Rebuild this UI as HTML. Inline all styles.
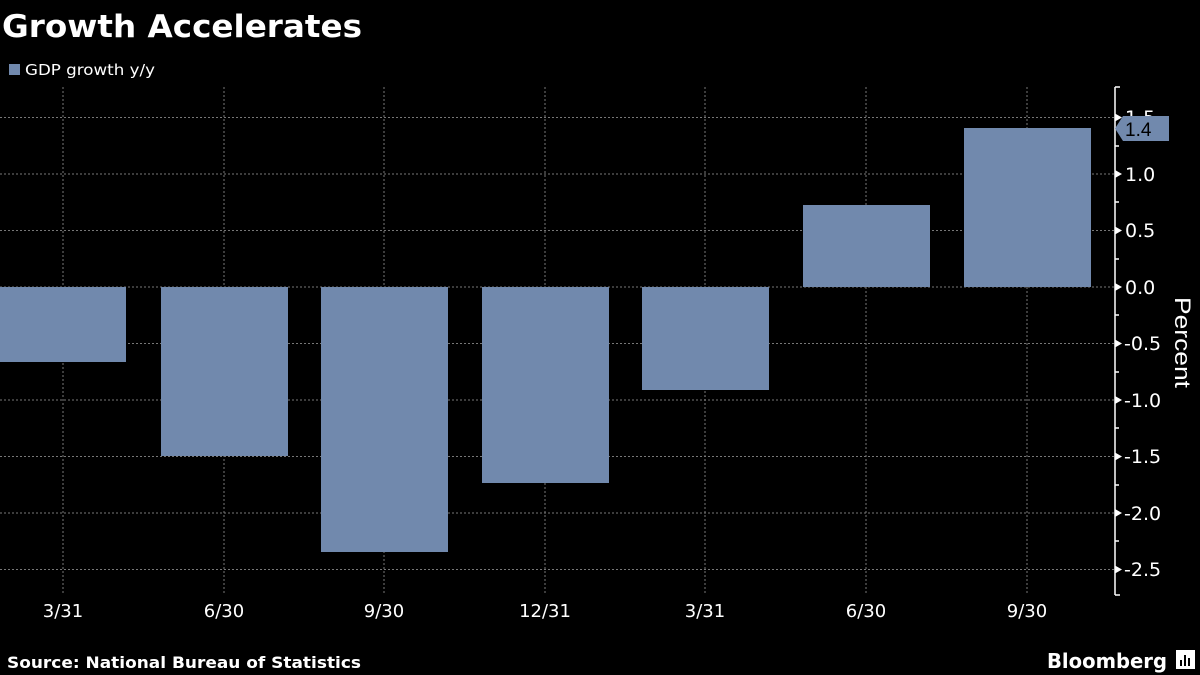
<!DOCTYPE html>
<html><head><style>
body{margin:0;background:#000;width:1200px;height:675px;overflow:hidden}
svg{display:block}
text{font-family:"DejaVu Sans","Liberation Sans",sans-serif;fill:#fff}
.l{font-family:"Liberation Sans",sans-serif}
</style></head><body>
<svg width="1200" height="675" viewBox="0 0 1200 675">
<rect width="1200" height="675" fill="#000"/>
<text x="2" y="37" font-size="31" font-weight="bold" textLength="360" lengthAdjust="spacingAndGlyphs">Growth Accelerates</text>
<rect x="9" y="64" width="11" height="11" fill="#7189ad"/>
<text x="25" y="75" font-size="15" textLength="130" lengthAdjust="spacingAndGlyphs">GDP growth y/y</text>
<g stroke="#777" stroke-width="1" stroke-dasharray="2,2">
<line x1="63" y1="87" x2="63" y2="595"/><line x1="224" y1="87" x2="224" y2="595"/>
<line x1="384" y1="87" x2="384" y2="595"/><line x1="545" y1="87" x2="545" y2="595"/>
<line x1="705" y1="87" x2="705" y2="595"/><line x1="866" y1="87" x2="866" y2="595"/>
<line x1="1027" y1="87" x2="1027" y2="595"/>
<line x1="0" y1="117.5" x2="1115" y2="117.5"/><line x1="0" y1="174" x2="1115" y2="174"/>
<line x1="0" y1="230.5" x2="1115" y2="230.5"/><line x1="0" y1="287" x2="1115" y2="287"/>
<line x1="0" y1="343.5" x2="1115" y2="343.5"/><line x1="0" y1="400" x2="1115" y2="400"/>
<line x1="0" y1="456.5" x2="1115" y2="456.5"/><line x1="0" y1="513" x2="1115" y2="513"/>
<line x1="0" y1="569.5" x2="1115" y2="569.5"/>
</g>
<g fill="#7189ad">
<rect x="0" y="287" width="126" height="75"/>
<rect x="161" y="287" width="127" height="169"/>
<rect x="321" y="287" width="127" height="265"/>
<rect x="482" y="287" width="127" height="196"/>
<rect x="642" y="287" width="127" height="103"/>
<rect x="803" y="205" width="127" height="82"/>
<rect x="964" y="128" width="127" height="159"/>
</g>
<line x1="1115" y1="87" x2="1115" y2="595" stroke="#fff" stroke-width="1.5"/>
<g stroke="#fff" stroke-width="1.5">
<line x1="1115" y1="87" x2="1120" y2="87"/><line x1="1115" y1="595" x2="1120" y2="595"/>
<line x1="1115" y1="146" x2="1119" y2="146"/><line x1="1115" y1="202" x2="1119" y2="202"/>
<line x1="1115" y1="259" x2="1119" y2="259"/><line x1="1115" y1="315" x2="1119" y2="315"/>
<line x1="1115" y1="372" x2="1119" y2="372"/><line x1="1115" y1="428" x2="1119" y2="428"/>
<line x1="1115" y1="485" x2="1119" y2="485"/><line x1="1115" y1="541" x2="1119" y2="541"/>
</g>
<g fill="#fff">
<path d="M1115 113.5l7 4-7 4z"/><path d="M1115 170l7 4-7 4z"/><path d="M1115 226.5l7 4-7 4z"/>
<path d="M1115 283l7 4-7 4z"/><path d="M1115 339.5l7 4-7 4z"/><path d="M1115 396l7 4-7 4z"/>
<path d="M1115 452.5l7 4-7 4z"/><path d="M1115 509l7 4-7 4z"/><path d="M1115 565.5l7 4-7 4z"/>
</g>
<g font-size="19" class="l">
<text x="1125" y="124">1.5</text><text x="1125" y="181">1.0</text><text x="1125" y="237">0.5</text>
<text x="1125" y="294">0.0</text><text x="1124" y="350">-0.5</text><text x="1124" y="407">-1.0</text>
<text x="1124" y="463">-1.5</text><text x="1124" y="520">-2.0</text><text x="1124" y="576">-2.5</text>
</g>
<path d="M1123 116H1169V141H1123L1115 128.5Z" fill="#7189ad"/>
<text x="1125" y="136" font-size="19" class="l" style="fill:#000">1.4</text>
<text x="0" y="0" font-size="22" class="l" transform="translate(1175,297) rotate(90)" textLength="91" lengthAdjust="spacingAndGlyphs">Percent</text>
<g font-size="18" text-anchor="middle">
<text x="63" y="617">3/31</text><text x="224" y="617">6/30</text><text x="384" y="617">9/30</text>
<text x="545" y="617">12/31</text><text x="705" y="617">3/31</text><text x="866" y="617">6/30</text>
<text x="1027" y="617">9/30</text>
</g>
<text x="7" y="668" font-size="16" font-weight="bold" textLength="354" lengthAdjust="spacingAndGlyphs">Source: National Bureau of Statistics</text>
<text x="1047" y="668" font-size="20" font-weight="bold" textLength="120" lengthAdjust="spacingAndGlyphs">Bloomberg</text>
<rect x="1176" y="650" width="19" height="19" fill="#fff"/>
<rect x="1180" y="660" width="2" height="6" fill="#000"/><rect x="1184" y="655" width="2" height="11" fill="#000"/><rect x="1188" y="658" width="2" height="8" fill="#000"/>
</svg>
</body></html>
